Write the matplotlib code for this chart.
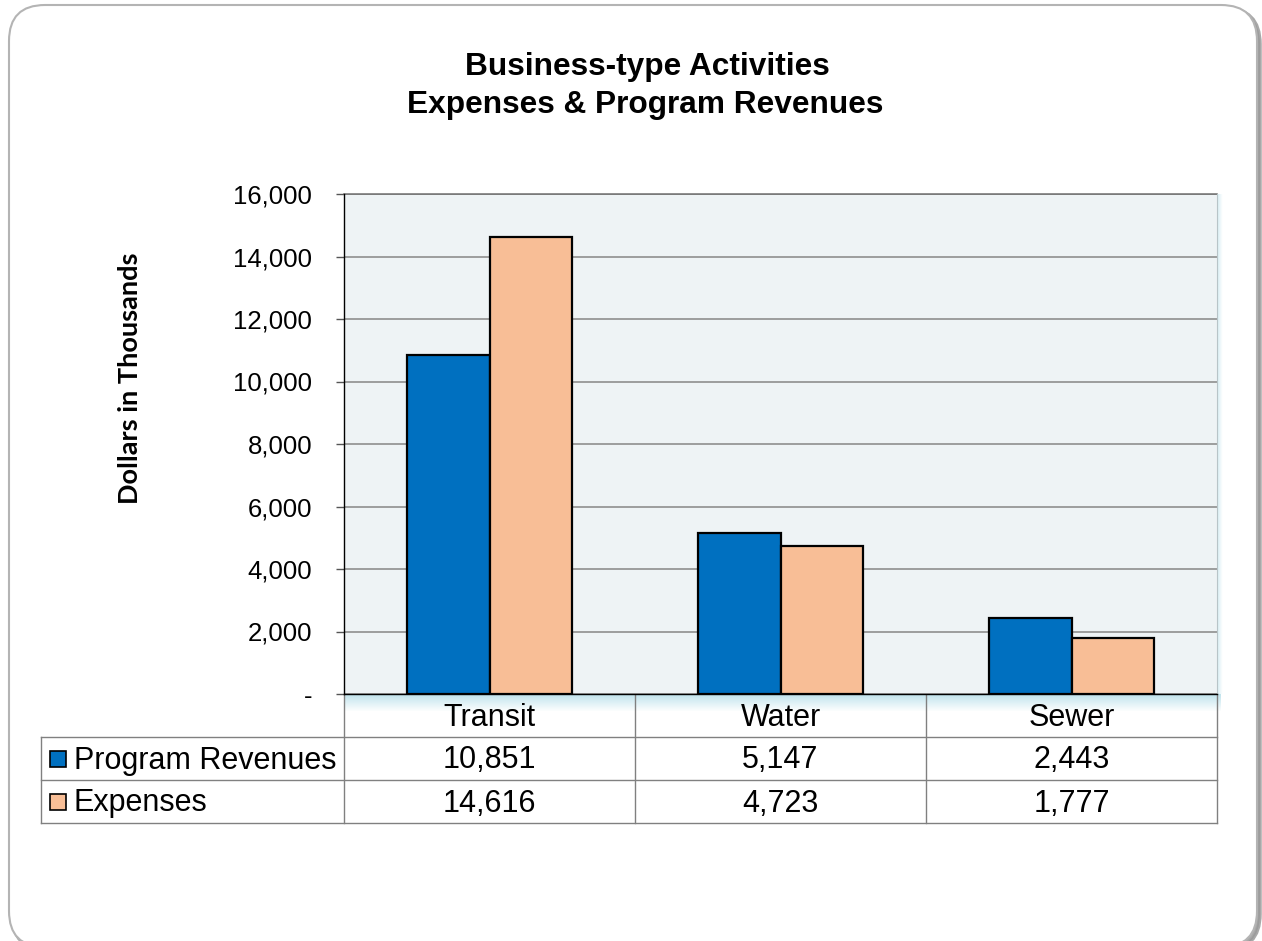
import matplotlib
matplotlib.use("Agg")
import matplotlib.pyplot as plt
import numpy as np
from matplotlib.patches import FancyBboxPatch, Rectangle
from matplotlib.ticker import FuncFormatter

# ---- data ----
categories = ["Transit", "Water", "Sewer"]
series_names = ["Program Revenues", "Expenses"]
program_revenues = [10851, 5147, 2443]
expenses = [14616, 4723, 1777]
y_ticks = [0, 2000, 4000, 6000, 8000, 10000, 12000, 14000, 16000]
title_lines = ["Business-type Activities", "Expenses & Program Revenues"]
y_label = "Dollars in Thousands"

colors = ["#0070C0", "#F8BE96"]

W, H = 1262, 941
fig = plt.figure(figsize=(W / 100, H / 100), dpi=100)
fig.patch.set_facecolor("white")

# overlay axes in pixel coords
ov = fig.add_axes([0, 0, 1, 1], zorder=0)
ov.set_xlim(0, W)
ov.set_ylim(H, 0)
ov.axis("off")

# rounded frame with shadow
shadow = FancyBboxPatch((12, 8), 1248, 942, boxstyle="round,pad=0,rounding_size=36",
                        facecolor="#9a9a9a", edgecolor="#9a9a9a", lw=2.5, alpha=0.85)
ov.add_patch(shadow)
frame = FancyBboxPatch((9, 5), 1248, 942, boxstyle="round,pad=0,rounding_size=36",
                       facecolor="white", edgecolor="#b4b4b4", lw=1.5)
ov.add_patch(frame)

# plot area position (pixels)
L, R, T, B = 344, 1217, 194, 694

# glow below x-axis and right side
grad = np.linspace(0.55, 0, 20)[:, None] * np.ones((1, 10))
rgba = np.zeros((20, 10, 4))
rgba[..., 0] = 0.55
rgba[..., 1] = 0.80
rgba[..., 2] = 0.87
rgba[..., 3] = grad
ov.imshow(rgba, extent=(L, R + 4, B + 18, B), aspect="auto", zorder=1, interpolation="bilinear")
gradr = np.linspace(0.35, 0, 10)[None, :] * np.ones((10, 1))
rgbr = np.zeros((10, 10, 4))
rgbr[..., 0] = 0.55
rgbr[..., 1] = 0.80
rgbr[..., 2] = 0.87
rgbr[..., 3] = gradr
ov.imshow(rgbr, extent=(R, R + 6, B, T), aspect="auto", zorder=1, interpolation="bilinear")

# title
ov.text(647, 67, title_lines[0], ha="center", va="center", fontsize=22.8,
        fontweight="bold", family="Liberation Sans")
ov.text(645, 105, title_lines[1], ha="center", va="center", fontsize=22.8,
        fontweight="bold", family="Liberation Sans")

# main axes
ax = fig.add_axes([L / W, 1 - B / H, (R - L) / W, (B - T) / H], zorder=2)
ax.set_facecolor("#EEF3F5")
x = np.arange(len(categories))
bw = 0.285
ax.bar(x - bw / 2, program_revenues, bw, color=colors[0], edgecolor="black", lw=1.6, zorder=3)
ax.bar(x + bw / 2, expenses, bw, color=colors[1], edgecolor="black", lw=1.6, zorder=3)
ax.set_xlim(-0.5, len(categories) - 0.5)
ax.set_ylim(0, 16000)
ax.set_yticks(y_ticks)
ax.yaxis.set_major_formatter(FuncFormatter(lambda v, p: "-" if v == 0 else f"{int(v):,}"))
ax.grid(axis="y", color="#868686", lw=1.1, zorder=1)
ax.set_axisbelow(True)
ax.set_xticks([])
ax.spines["top"].set_visible(False)
ax.spines["right"].set_color("#b8c4c8")
ax.spines["right"].set_linewidth(0.8)
ax.spines["left"].set_color("black")
ax.spines["left"].set_linewidth(1.0)
ax.spines["bottom"].set_color("black")
ax.spines["bottom"].set_linewidth(1.0)
ax.tick_params(axis="y", length=6, width=1.0, color="#555555", pad=17, labelsize=18.5)
for lab in ax.get_yticklabels():
    lab.set_family("Liberation Sans")
# top border of plot area
ax.plot([-0.5, 2.5], [16000, 16000], color="#707070", lw=1.1, zorder=1, clip_on=False)

# y label
ov.text(130, 378, y_label, rotation=90, ha="center", va="center", fontsize=19.5,
        fontweight="bold", family="Lato")

# ---- data table ----
col_edges = [L, 635, 926, R]
row_edges = [B, 737, 780, 823]
lc = "#808080"
for yy in row_edges[1:]:
    ov.plot([41, R], [yy, yy], color=lc, lw=1.0, zorder=3)
for xx in col_edges:
    ov.plot([xx, xx], [B, 823], color=lc, lw=1.0, zorder=3)
ov.plot([41, 41], [737, 823], color=lc, lw=1.0, zorder=3)

fs_t = 22.0
for i, cat in enumerate(categories):
    cx = (col_edges[i] + col_edges[i + 1]) / 2
    ov.text(cx, (row_edges[0] + row_edges[1]) / 2 + 3, cat, ha="center", va="center",
            fontsize=fs_t, family="Liberation Sans", zorder=4)
    ov.text(cx, (row_edges[1] + row_edges[2]) / 2 + 2, f"{program_revenues[i]:,}", ha="center",
            va="center", fontsize=fs_t, family="Liberation Sans", zorder=4)
    ov.text(cx, (row_edges[2] + row_edges[3]) / 2 + 2, f"{expenses[i]:,}", ha="center",
            va="center", fontsize=fs_t, family="Liberation Sans", zorder=4)

for j, name in enumerate(series_names):
    yc = (row_edges[j + 1] + row_edges[j + 2]) / 2
    ov.add_patch(Rectangle((50, yc - 8), 16, 16, facecolor=colors[j], edgecolor="black",
                           lw=1.2, zorder=4))
    ov.text(74, yc + 2, name, ha="left", va="center", fontsize=fs_t,
            family="Liberation Sans", zorder=4)

fig.savefig("out.png", dpi=100)
